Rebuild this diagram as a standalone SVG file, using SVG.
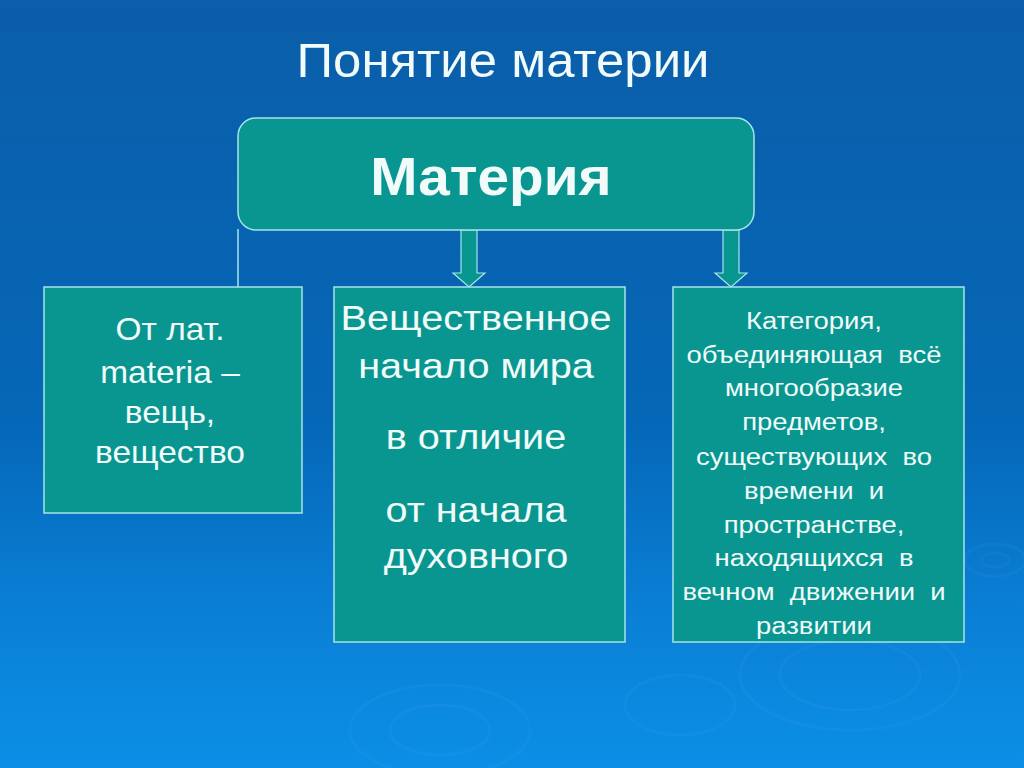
<svg xmlns="http://www.w3.org/2000/svg" width="1024" height="768" viewBox="0 0 1024 768">
<defs>
<linearGradient id="bg" x1="0" y1="0" x2="0" y2="1">
<stop offset="0" stop-color="#0B5EA9"/>
<stop offset="0.55" stop-color="#0567B7"/>
<stop offset="0.8" stop-color="#0A80D6"/>
<stop offset="1" stop-color="#0B8FE6"/>
</linearGradient>
<style>
.box{fill:#0A9690;stroke:#A6E4EA;stroke-width:1.5}
.arrow{fill:#0A9690;stroke:#A6E4EA;stroke-width:1.2;stroke-linejoin:miter}
.line{stroke:#A6E4EA;stroke-width:1.5;fill:none}
.ripple{fill:none;stroke:#8FD3FA;stroke-opacity:0.05;stroke-width:3}
text{font-family:"Liberation Sans",Arial,"Noto Sans",sans-serif;fill:#F0FBFA;text-anchor:middle}
.title{font-size:48px}
.head{font-size:54px;font-weight:bold}
.t1{font-size:31px}
.t2{font-size:36px}
.t3{font-size:24.5px}
</style>
</defs>
<rect width="1024" height="768" fill="url(#bg)"/>
<g id="ripples">
<ellipse class="ripple" cx="995" cy="560" rx="30" ry="16"/>
<ellipse class="ripple" cx="995" cy="560" rx="14" ry="7"/>
<ellipse class="ripple" cx="850" cy="675" rx="110" ry="55"/>
<ellipse class="ripple" cx="850" cy="675" rx="70" ry="35"/>
<ellipse class="ripple" cx="680" cy="705" rx="55" ry="30"/>
<ellipse class="ripple" cx="440" cy="730" rx="90" ry="45"/>
<ellipse class="ripple" cx="440" cy="730" rx="50" ry="25"/>
</g>
<g transform="translate(503 0) scale(1.06 1)">
<text class="title" x="0" y="77">Понятие материи</text>
</g>
<g id="connectors">
<line class="line" x1="238" y1="229" x2="238" y2="287"/>
<path class="arrow" d="M461,230 L477,230 L477,273 L485,273 L469,287 L453,273 L461,273 Z"/>
<path class="arrow" d="M723,230 L739,230 L739,273 L747,273 L731,287 L715,273 L723,273 Z"/>
</g>
<g id="node-materia">
<rect class="box" x="238" y="118" width="516" height="112" rx="18" ry="18"/>
<g transform="translate(491 0) scale(1.05 1)">
<text class="head" x="0" y="195">Материя</text>
</g>
</g>
<g id="node-latin">
<rect class="box" x="44" y="287" width="258" height="226"/>
<g transform="translate(170 0) scale(1.08 1)">
<text class="t1" x="0" y="340">От лат.</text>
<text class="t1" x="0" y="383">materia –</text>
<text class="t1" x="0" y="423">вещь,</text>
<text class="t1" x="0" y="463">вещество</text>
</g>
</g>
<g id="node-principle">
<rect class="box" x="334" y="287" width="291" height="355"/>
<g transform="translate(476 0) scale(1.1 1)">
<text class="t2" x="0" y="330">Вещественное</text>
<text class="t2" x="0" y="378">начало мира</text>
<text class="t2" x="0" y="449">в отличие</text>
<text class="t2" x="0" y="522">от начала</text>
<text class="t2" x="0" y="568">духовного</text>
</g>
</g>
<g id="node-category">
<rect class="box" x="673" y="287" width="291" height="355"/>
<g transform="translate(814 0) scale(1.12 1)">
<text class="t3" x="0" y="329">Категория,</text>
<text class="t3" x="0" y="363" xml:space="preserve">объединяющая  всё</text>
<text class="t3" x="0" y="396">многообразие</text>
<text class="t3" x="0" y="430">предметов,</text>
<text class="t3" x="0" y="465" xml:space="preserve">существующих  во</text>
<text class="t3" x="0" y="499" xml:space="preserve">времени  и</text>
<text class="t3" x="0" y="533">пространстве,</text>
<text class="t3" x="0" y="566" xml:space="preserve">находящихся  в</text>
<text class="t3" x="0" y="600" xml:space="preserve">вечном  движении  и</text>
<text class="t3" x="0" y="634">развитии</text>
</g>
</g>
</svg>
